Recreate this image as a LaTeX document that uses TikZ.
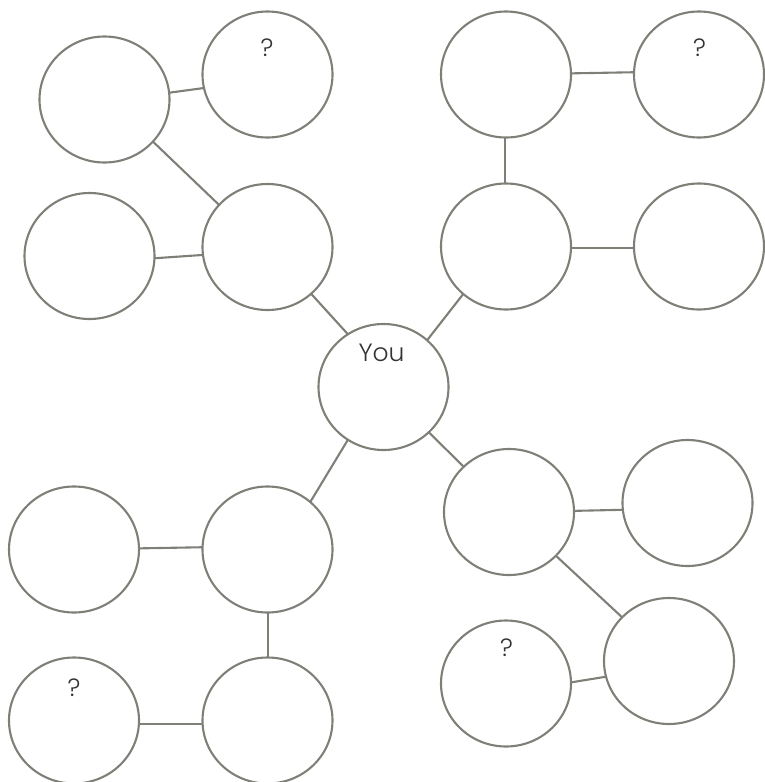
\documentclass[tikz,border=0pt]{standalone}
\usepackage{fontspec}
\setmainfont{Poppins}[UprightFont=*-Light]
\usetikzlibrary{shapes.geometric}
\definecolor{ringgray}{HTML}{7D8077}
\definecolor{txtgray}{HTML}{333333}
\tikzset{
  ring/.style={ellipse, draw=ringgray, line width=2.1pt, minimum width=130pt, minimum height=126pt, inner sep=0pt, outer sep=0pt},
  link/.style={draw=ringgray, line width=2.1pt},
  lbl/.style={text=txtgray, font=\fontsize{25}{25}\selectfont, inner sep=0pt}
}
\begin{document}
\begin{tikzpicture}[x=1pt,y=-1pt]
\useasboundingbox (0,0) rectangle (765,782);
% rings
\node[ring] (n1) at (104.5,99.5) {};
\node[ring] (n2) at (267.5,74.5) {};
\node[ring] (n3) at (89.5,256) {};
\node[ring] (n4) at (267.5,247) {};
\node[ring] (n5) at (506,74.5) {};
\node[ring] (n6) at (699,74.5) {};
\node[ring] (n7) at (506,246.5) {};
\node[ring] (n8) at (699,246.5) {};
\node[ring] (you) at (383.5,387) {};
\node[ring] (n10) at (74,549.5) {};
\node[ring] (n11) at (267.5,549.5) {};
\node[ring] (n12) at (74,720.5) {};
\node[ring] (n13) at (267.5,720.5) {};
\node[ring] (n14) at (509,512) {};
\node[ring] (n15) at (687.5,503) {};
\node[ring] (n16) at (506,683.5) {};
\node[ring] (n17) at (669,661) {};
% labels
\node[lbl] (tyou) at (381.5,353) {You};
\node[lbl] (q2) at (267,47.5) {?};
\node[lbl] (q6) at (699.5,47.5) {?};
\node[lbl] (q12) at (74,688) {?};
\node[lbl] (q16) at (506.5,647.5) {?};
% links
\draw[link] (n1.6.5) -- (n2.192.5);
\draw[link] (n1.-41.3) -- (n4.139);
\draw[link] (n3.-2.6) -- (n4.187.8);
\draw[link] (n4.-47.2) -- (you.124);
\draw[link] (n5.1.3) -- (n6.178.7);
\draw[link] ([xshift=-1pt]n5.south) -- ([xshift=-1pt]n7.north);
\draw[link] (n7.-1.3) -- (n8.181.3);
\draw[link] (n7.228.4) -- (you.47.2);
\draw[link] (you.236.4) -- (n11.48);
\draw[link] (you.-45.3) -- (n14.135);
\draw[link] (n10.1.3) -- (n11.178.7);
\draw[link] ([xshift=0.5pt]n11.south) -- ([xshift=0.5pt]n13.north);
\draw[link] (n12.-3.9) -- (n13.183.9);
\draw[link] (n14.1.7) -- (n15.186.1);
\draw[link] (n14.-43.8) -- (n17.137.5);
\draw[link] (n16.1.3) -- (n17.194.3);
\end{tikzpicture}
\end{document}
